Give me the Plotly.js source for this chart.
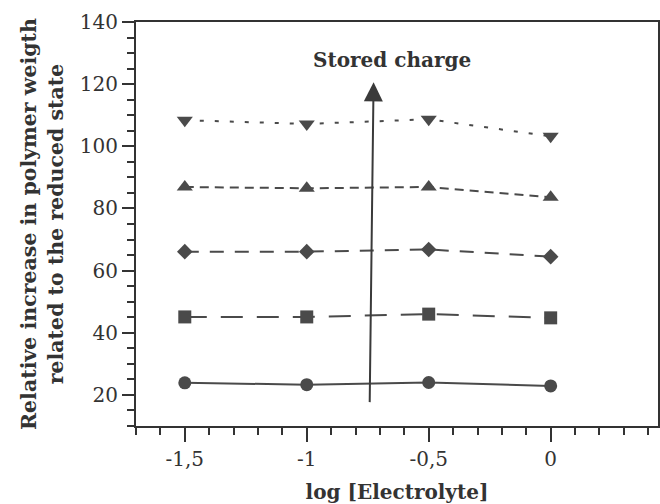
<!DOCTYPE html>
<html>
<head>
<meta charset="utf-8">
<script src="https://cdn.plot.ly/plotly-3.0.1.min.js"></script>
<style>html,body{margin:0;padding:0;background:#fff;}#chart{width:660px;height:504px;}</style>
</head>
<body>
<div id="chart"></div>
<script>
// Data
var logElectrolyte = [-1.5, -1, -0.5, 0];
var series1 = [23.9, 23.3, 24.0, 22.9];   // circles, solid
var series2 = [45.1, 45.1, 46.0, 44.8];   // squares, long dash
var series3 = [66.1, 66.1, 66.8, 64.5];   // diamonds, dash
var series4 = [86.9, 86.5, 86.9, 83.6];   // triangle-up, short dash
var series5 = [108.4, 107.2, 108.7, 103.2]; // triangle-down, dotted
var xTickVals = [-1.5, -1, -0.5, 0];
var xTickText = ['-1,5', '-1', '-0,5', '0'];
var arrowStart = {x: -0.742, y: 17.2};
var arrowEnd = {x: -0.726, y: 120.6};
var labelPos = {x: -0.652, y: 127.7};

var col = '#4a4a4a';
var axisCol = '#333333';
var serif = '"DejaVu Serif", "Liberation Serif", serif';

function tr(y, sym, size, dash) {
  return {
    x: logElectrolyte, y: y, type: 'scatter', mode: 'lines+markers',
    line: {color: col, width: 2, dash: dash},
    marker: {symbol: sym, size: size, color: col},
    showlegend: false, hoverinfo: 'x+y'
  };
}

var data = [
  tr(series1, 'circle', 13, 'solid'),
  tr(series2, 'square', 13, '22px,14px'),
  tr(series3, 'diamond', 12, '14px,11px'),
  tr(series4, 'triangle-up', 14, '9px,6px'),
  tr(series5, 'triangle-down', 14, '4px,11px')
];

var layout = {
  width: 660, height: 504,
  margin: {l: 136, r: 2, t: 22, b: 78},
  paper_bgcolor: '#ffffff', plot_bgcolor: '#ffffff',
  font: {family: serif, color: '#333', size: 20},
  xaxis: {
    range: [-1.7, 0.44],
    tickmode: 'array', tickvals: xTickVals, ticktext: xTickText,
    ticks: 'outside', ticklen: 14, tickwidth: 2, tickcolor: axisCol,
    minor: {tickmode: 'linear', tick0: 0, dtick: 0.1, ticks: 'outside', ticklen: 7, tickwidth: 2, tickcolor: axisCol},
    showline: true, linewidth: 2, linecolor: axisCol, mirror: true,
    showgrid: false, zeroline: false,
    tickfont: {family: serif, size: 20, color: '#333'},
    title: {text: '<b>log [Electrolyte]</b>', font: {family: serif, size: 20, color: '#333'}, standoff: 16}
  },
  yaxis: {
    range: [10, 140],
    tickmode: 'linear', tick0: 0, dtick: 20,
    ticks: 'outside', ticklen: 12, tickwidth: 2, tickcolor: axisCol,
    minor: {tickmode: 'linear', tick0: 0, dtick: 5, ticks: 'outside', ticklen: 7, tickwidth: 2, tickcolor: axisCol},
    showline: true, linewidth: 2, linecolor: axisCol, mirror: true,
    showgrid: false, zeroline: false,
    tickfont: {family: serif, size: 20, color: '#333'},
    title: {text: '<b>Relative increase in polymer weigth<br>related to the reduced state</b>', font: {family: serif, size: 20.5, color: '#333'}, standoff: 11}
  },
  annotations: [
    {
      x: arrowEnd.x, y: arrowEnd.y, ax: arrowStart.x, ay: arrowStart.y,
      xref: 'x', yref: 'y', axref: 'x', ayref: 'y',
      showarrow: true, arrowhead: 2, arrowsize: 1.9, arrowwidth: 2, arrowcolor: '#3a3a3a', text: ''
    },
    {
      x: labelPos.x, y: labelPos.y, xref: 'x', yref: 'y', showarrow: false,
      text: '<b>Stored charge</b>', font: {family: serif, size: 20, color: '#333'}
    }
  ]
};

Plotly.newPlot('chart', data, layout, {displayModeBar: false, staticPlot: true});
</script>
</body>
</html>
